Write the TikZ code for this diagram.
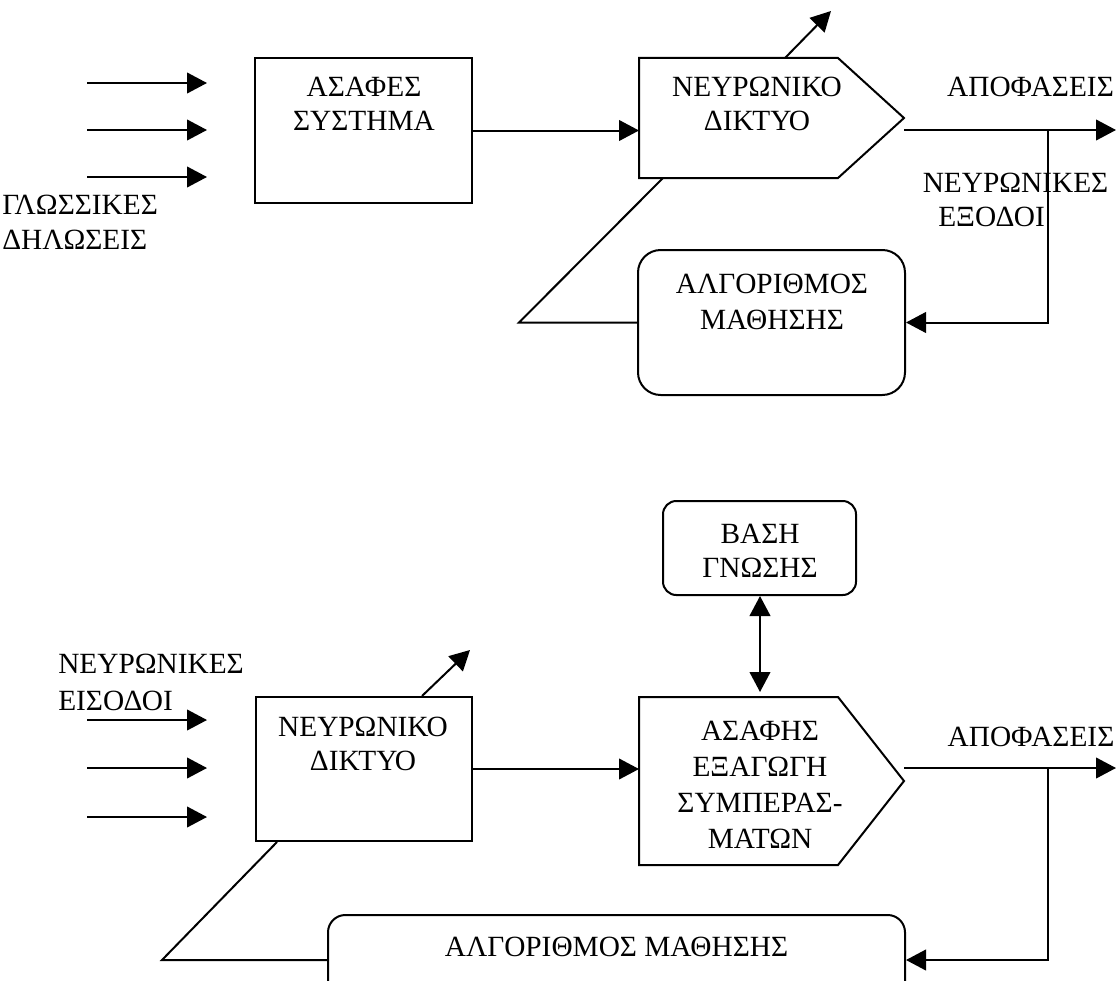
\documentclass[tikz,border=0pt]{standalone}
\usepackage{fontspec}
\setmainfont{Liberation Serif}
\usetikzlibrary{arrows.meta,calc}
\begin{document}
\begin{tikzpicture}[x=0.75pt,y=-0.75pt,
  lw/.style={line width=1.5pt},
  box/.style={draw,line width=1.5pt,rectangle,inner sep=0pt},
  shell/.style={rectangle,inner sep=0pt,outer sep=0pt},
  rbox/.style={box,rounded corners=#1},
  arr/.style={line width=1.5pt,-{Triangle[length=15pt,width=15.5pt]}},
  darr/.style={line width=1.5pt,{Triangle[length=15pt,width=15.5pt]}-{Triangle[length=15pt,width=15.5pt]}},
  txt/.style={font=\fontsize{22}{#1}\selectfont,inner sep=0pt,align=center},
  txt/.default=25.5pt,
]
\clip (0,0) rectangle (1117,981);

% ---------------- upper scheme ----------------
% linguistic inputs
\foreach \y [count=\i] in {83,130,177}{
  \coordinate (ua\i) at (87,\y);
  \coordinate (ub\i) at (207,\y);
  \draw[arr] (ua\i) -- (ub\i);
}
\node[txt=26.25pt,align=left,anchor=west] (ling) at (2,222.5) {ΓΛΩΣΣΙΚΕΣ\\ΔΗΛΩΣΕΙΣ};

% fuzzy system
\node[box,minimum width=162.75pt,minimum height=108.75pt] (fz) at (363.5,130.5) {};
\node[txt] (fzt) at (364,104) {ΑΣΑΦΕΣ\\ΣΥΣΤΗΜΑ};

% neural network (pentagon)
\node[shell,minimum width=149.25pt,minimum height=90pt] (nn1) at (738.5,118) {};
\draw[lw,line join=miter] (nn1.north west) -- (nn1.north east) -- ($(nn1.east)+(66,0)$)
  -- (nn1.south east) -- (nn1.south west) -- cycle;
\node[txt] (nn1t) at (757,103.5) {ΝΕΥΡΩΝΙΚΟ\\ΔΙΚΤΥΟ};

% learning algorithm
\node[rbox=17pt,minimum width=200.25pt,minimum height=108.75pt] (lr1) at (771.5,322.5) {};
\node[txt=27pt] (lr1t) at (772,302) {ΑΛΓΟΡΙΘΜΟΣ\\ΜΑΘΗΣΗΣ};

% connections
\draw[arr] (fz.east) -- (fz.east -| nn1.west);
\coordinate (u1) at ($(nn1.north west)+(146,0)$);
\coordinate (u2) at (831,11);
\draw[arr] (u1) -- (u2);
\coordinate (d1) at ($(nn1.south west)+(24,0)$);
\coordinate (d2) at (519,322.5);
\draw[lw] (d1) -- (d2) -- (lr1.west);

\coordinate (o1) at (904,130);
\coordinate (o2) at (1116,130);
\coordinate (fb1) at (1048,130);
\draw[arr] (o1) -- (o2);
\draw[arr] (fb1) -- (fb1 |- lr1.east) -- (lr1.east);

\node[txt] (dec1) at (1030.5,87) {ΑΠΟΦΑΣΕΙΣ};
\node[txt] (nout1) at (1015.5,183) {ΝΕΥΡΩΝΙΚΕΣ};
\node[txt] (nout2) at (991.5,217) {ΕΞΟΔΟΙ};

% ---------------- lower scheme ----------------
\node[txt=27.75pt,align=left,anchor=west] (nin) at (58,682.5) {ΝΕΥΡΩΝΙΚΕΣ\\ΕΙΣΟΔΟΙ};
\foreach \y [count=\i] in {720,768,817}{
  \coordinate (la\i) at (87,\y);
  \coordinate (lb\i) at (207,\y);
  \draw[arr] (la\i) -- (lb\i);
}

% neural network
\node[box,minimum width=162pt,minimum height=108pt] (nn2) at (364,769) {};
\node[txt] (nn2t) at (363,744) {ΝΕΥΡΩΝΙΚΟ\\ΔΙΚΤΥΟ};

% knowledge base
\node[rbox=10pt,minimum width=144.75pt,minimum height=70.5pt] (kb) at (759.5,548) {};
\node[txt] (kbt) at (760,551) {ΒΑΣΗ\\ΓΝΩΣΗΣ};

% fuzzy inference (pentagon)
\node[shell,minimum width=149.25pt,minimum height=126pt] (fi) at (738.5,781) {};
\draw[lw,line join=miter] (fi.north west) -- (fi.north east) -- ($(fi.east)+(66,0)$)
  -- (fi.south east) -- (fi.south west) -- cycle;
\node[txt=27pt] (fit) at (760,785) {ΑΣΑΦΗΣ\\ΕΞΑΓΩΓΗ\\ΣΥΜΠΕΡΑΣ-\\ΜΑΤΩΝ};

% learning algorithm
\node[rbox=13pt,minimum width=432.75pt,minimum height=67.5pt] (lr2) at (616.5,960) {};
\node[txt] (lr2t) at (616.5,947) {ΑΛΓΟΡΙΘΜΟΣ ΜΑΘΗΣΗΣ};

% connections
\draw[arr] (nn2.east) -- (nn2.east -| fi.west);
\coordinate (v1) at ($(kb.south)+(0.5,0)$);
\coordinate (v2) at (760,692);
\draw[darr] (v1) -- (v2);
\coordinate (w1) at ($(nn2.north west)+(167,0)$);
\coordinate (w2) at (470,650);
\draw[arr] (w1) -- (w2);
\coordinate (e1) at ($(nn2.south west)+(22,0)$);
\coordinate (e2) at (162,960);
\draw[lw] (e1) -- (e2) -- (lr2.west);

\coordinate (p1) at (904,768);
\coordinate (p2) at (1116,768);
\coordinate (fb2) at (1048,768);
\draw[arr] (p1) -- (p2);
\draw[arr] (fb2) -- (fb2 |- lr2.east) -- (lr2.east);

\node[txt] (dec2) at (1031,737) {ΑΠΟΦΑΣΕΙΣ};
\end{tikzpicture}
\end{document}
